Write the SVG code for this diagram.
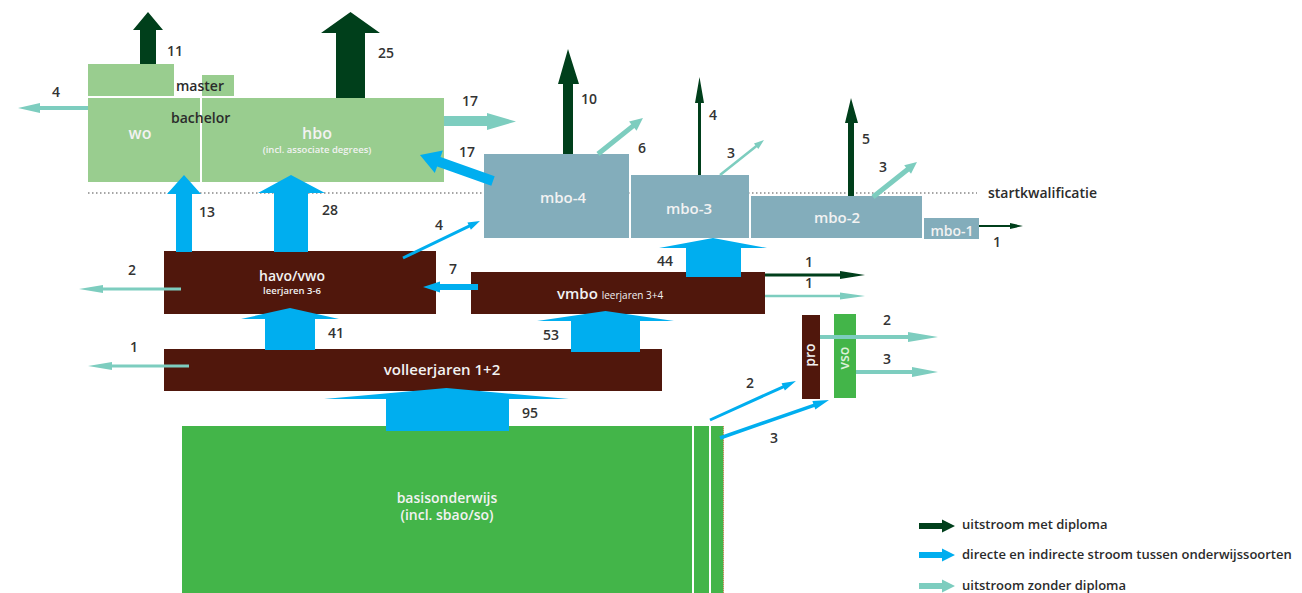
<svg xmlns="http://www.w3.org/2000/svg" width="1302" height="593" viewBox="0 0 1302 593">
<style>
text{font-family:"Open Sans","Noto Sans","Liberation Sans",sans-serif;font-weight:600}
.lg{fill:#99cd8f}
.mb{fill:#83adbb}
.br{fill:#50170c}
.gr{fill:#43b549}
.dg{fill:#003f1b}
.bl{fill:#00aeef}
.tl{fill:#7dcdbf}
.num{font-size:14px;fill:#333}
.lab{font-size:14px;fill:#2b2b2b}
.leg{font-size:13px;fill:#2b2b2b}
.wt{fill:#f2f2f2;text-anchor:middle}
</style>
<rect width="1302" height="593" fill="#fff"/>
<line x1="88" y1="193" x2="977" y2="193" stroke="#888" stroke-width="1.3" stroke-dasharray="1.5 2.5"/>
<g id="node-master-wo"><rect class="lg" x="88" y="64" width="86" height="32"/></g>
<g id="node-master-hbo"><rect class="lg" x="202" y="75" width="32" height="21"/></g>
<g id="node-wo"><rect class="lg" x="88" y="98" width="112" height="84"/><text class="wt" x="140" y="139" font-size="16">wo</text></g>
<g id="node-hbo"><rect class="lg" x="202" y="98" width="242" height="84"/><text class="wt" x="317" y="139" font-size="16">hbo</text><text class="wt" x="317" y="153" font-size="9.5" font-weight="400">(incl. associate degrees)</text></g>
<g id="labels-master-bachelor"><text class="lab" x="176" y="91">master</text><text class="lab" x="171" y="123">bachelor</text></g>
<g id="node-mbo4"><rect class="mb" x="484" y="154" width="145" height="84"/><text class="wt" x="563" y="203" font-size="15">mbo-4</text></g>
<g id="node-mbo3"><rect class="mb" x="631" y="175" width="118" height="63"/><text class="wt" x="689" y="214" font-size="15">mbo-3</text></g>
<g id="node-mbo2"><rect class="mb" x="751" y="196" width="171" height="42"/><text class="wt" x="837" y="223" font-size="15">mbo-2</text></g>
<g id="node-mbo1"><rect class="mb" x="924" y="218" width="55" height="21"/><text class="wt" x="952" y="236" font-size="14">mbo-1</text></g>
<text class="lab" x="988" y="198">startkwalificatie</text>
<g id="node-havo"><rect class="br" x="164" y="251" width="272" height="63"/><text class="wt" x="292" y="281" font-size="14">havo/vwo</text><text class="wt" x="292" y="294" font-size="9.5" font-weight="400">leerjaren 3-6</text></g>
<g id="node-vmbo"><rect class="br" x="471" y="272" width="294" height="42"/><text x="557" y="299" fill="#f2f2f2" font-size="15">vmbo <tspan font-size="10" font-weight="400">leerjaren 3+4</tspan></text></g>
<g id="node-volleerjaren"><rect class="br" x="164" y="349" width="498" height="42"/><text class="wt" x="442" y="375" font-size="15">volleerjaren 1+2</text></g>
<g id="node-basis"><rect class="gr" x="182" y="426" width="510" height="167"/><rect class="gr" x="694" y="426" width="15" height="167"/><rect class="gr" x="711" y="426" width="12.5" height="167"/><line x1="723.5" y1="426" x2="723.5" y2="593" stroke="#d9653b" stroke-width="0.8" stroke-dasharray="1 1"/><text class="wt" x="447" y="503" font-size="14">basisonderwijs</text><text class="wt" x="447" y="520" font-size="14">(incl. sbao/so)</text></g>
<g id="node-pro"><rect class="br" x="802" y="315" width="18" height="84"/><text class="wt" transform="translate(815,355) rotate(-90)" font-size="14">pro</text></g>
<g id="node-vso"><rect class="gr" x="834" y="314" width="22" height="84"/><text transform="translate(849,358) rotate(-90)" font-size="14" fill="#dcf0da" text-anchor="middle">vso</text></g>
<g id="connectors">
<polygon class="dg" points="140,64 140,30 133,30 148,12 163,30 156,30 156,64"/>
<polygon class="dg" points="336,98 336,33 321,33 350.5,12 380,33 365,33 365,98"/>
<polygon class="dg" points="563,154 563,84 558,84 568,49 579,84 573,84 573,154"/>
<polygon class="dg" points="698,175 698,103 695,103 699.5,77 704,103 701,103 701,175"/>
<polygon class="dg" points="848,196 848,123 845,123 851,98 858,123 854,123 854,196"/>
<polygon class="bl" points="176,252 176,194 167,194 184,175 201,194 192,194 192,252"/>
<polygon class="bl" points="274,252 274,193 258,193 291,175 325,193 308,193 308,252"/>
<polygon class="bl" points="265,350 265,319 241,319 290,308 339,319 315,319 315,350"/>
<polygon class="bl" points="571,352 571,321 537,321 605.5,311 674,321 640,321 640,352"/>
<polygon class="bl" points="386,431 386,399 324,399 446.5,388 569,399 509,399 509,431"/>
<polygon class="bl" points="686,277 686,248 659,248 713,238 767,248 741,248 741,277"/>
<path class="tl" transform="translate(598,154) rotate(-38.7)" d="M0,-2.5 H44.6 V-6 L57.6,0 L44.6,6 V2.5 H0Z"/>
<path class="tl" transform="translate(720,175) rotate(-38.5)" d="M0,-1.25 H46.2 V-3.5 L56.2,0 L46.2,3.5 V1.25 H0Z"/>
<path class="tl" transform="translate(873,197) rotate(-38.5)" d="M0,-2.5 H44.2 V-5.5 L56.2,0 L44.2,5.5 V2.5 H0Z"/>
<path class="bl" transform="translate(403,258) rotate(-25.7)" d="M0,-1.5 H73.4 V-4 L85.4,0 L73.4,4 V1.5 H0Z"/>
<path class="bl" transform="translate(493,181) rotate(199.6)" d="M0,-5 H57.5 V-12 L77.5,0 L57.5,12 V5 H0Z"/>
<path class="bl" transform="translate(710,420) rotate(-24.4)" d="M0,-1.5 H80.4 V-4 L94.4,0 L80.4,4 V1.5 H0Z"/>
<path class="bl" transform="translate(720,438) rotate(-19.2)" d="M0,-1.75 H99.4 V-4.5 L115.4,0 L99.4,4.5 V1.75 H0Z"/>
<path class="tl" d="M444,116 H487 V113 L516,121.5 L487,130 V126 H444Z"/>
<path class="tl" d="M88,106 H40 V103 L18,108 L40,113 V110 H88Z"/>
<path class="tl" d="M181,287.5 H103 V285 L79,289 L103,293 V290.5 H181Z"/>
<path class="bl" d="M478,284 H440 V281.5 L423,287 L440,292.5 V290 H478Z"/>
<path class="tl" d="M189,364.5 H112 V362 L88,366 L112,370 V367.5 H189Z"/>
<path class="dg" d="M765,273.5 H840 V271 L865,275 L840,279 V276.5 H765Z"/>
<path class="tl" d="M765,294.8 H840 V292.5 L865,296 L840,299.5 V297.2 H765Z"/>
<path class="tl" d="M820,335 H908 V332 L938,337 L908,342 V339 H820Z"/>
<path class="tl" d="M856,370 H912 V367 L938,372 L912,377 V374 H856Z"/>
<path class="dg" d="M979,225 H1010 V223 L1023,226 L1010,229 V227 H979Z"/>
</g>
<g id="flow-labels">
<text class="num" x="167" y="56">11</text>
<text class="num" x="378" y="58">25</text>
<text class="num" x="52" y="97">4</text>
<text class="num" x="462" y="106">17</text>
<text class="num" x="459" y="157">17</text>
<text class="num" x="581" y="104">10</text>
<text class="num" x="638" y="153">6</text>
<text class="num" x="709" y="120">4</text>
<text class="num" x="727" y="158">3</text>
<text class="num" x="862" y="144">5</text>
<text class="num" x="879" y="172">3</text>
<text class="num" x="997" y="247" text-anchor="middle">1</text>
<text class="num" x="199" y="217">13</text>
<text class="num" x="322" y="215">28</text>
<text class="num" x="435" y="230">4</text>
<text class="num" x="128" y="275">2</text>
<text class="num" x="449" y="274">7</text>
<text class="num" x="657" y="266">44</text>
<text class="num" x="809" y="267" text-anchor="middle">1</text>
<text class="num" x="809" y="288" text-anchor="middle">1</text>
<text class="num" x="328" y="338">41</text>
<text class="num" x="543" y="340">53</text>
<text class="num" x="130" y="352">1</text>
<text class="num" x="522" y="418">95</text>
<text class="num" x="887" y="325" text-anchor="middle">2</text>
<text class="num" x="887" y="364" text-anchor="middle">3</text>
<text class="num" x="750" y="388" text-anchor="middle">2</text>
<text class="num" x="774" y="443" text-anchor="middle">3</text>
</g>
<g id="legend">
<path class="dg" d="M919,523 H942 V519.5 L955,526 L942,532.5 V529 H919Z"/>
<path class="bl" d="M919,552 H942 V548.5 L955,555 L942,561.5 V558 H919Z"/>
<path class="tl" d="M919,583 H942 V579.5 L955,586 L942,592.5 V589 H919Z"/>
<text class="leg" x="962" y="529">uitstroom met diploma</text>
<text class="leg" x="962" y="559">directe en indirecte stroom tussen onderwijssoorten</text>
<text class="leg" x="962" y="590">uitstroom zonder diploma</text>
</g>
</svg>
